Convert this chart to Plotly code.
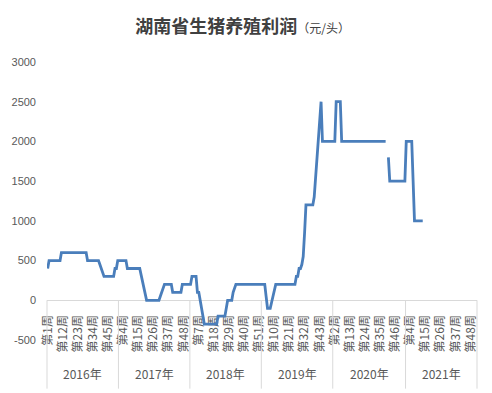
import plotly.graph_objects as go

# ---------------- data ----------------
years = ["2016年", "2017年", "2018年", "2019年", "2020年", "2021年"]
weeks_per_year = [52, 52, 52, 52, 53, 52]

profit_2016 = [400] + [500] * 9 + [600] * 19 + [500] * 9 + [450, 400, 350] + [300] * 8 + [400, 400] + [500]
profit_2017 = [500] * 6 + [400] * 10 + [320, 240, 160, 80] + [0] * 10 + [50, 100, 150] + [200] * 6 + [100] * 7 + [200] * 6
profit_2018 = [200] + [300] * 4 + [100, 100] + [0, -100, -200] + [-300] * 10 + [-200] * 6 + [-100] + [0] * 4 + [100, 150] + [200] * 19
profit_2019 = [200] * 3 + [50] + [-100] * 3 + [-25, 50, 125] + [200] * 15 + [300, 300] + [400, 400] + [450, 550, 850] + [1200] * 6 + [1300] + [1550, 1800] + [2000] + [2250] + [2500] + [2000] * 8
profit_2020 = [2000] * 2 + [2500] * 4 + [2000] * 33 + [None] + [1800] + [1500] * 12
profit_2021 = [2000] * 5 + [1500] + [1000] * 7 + [None] * 39

y_ticks = [-500, 0, 500, 1000, 1500, 2000, 2500, 3000]
tick_every = 11

# ---------------- build ----------------
profit = profit_2016 + profit_2017 + profit_2018 + profit_2019 + profit_2020 + profit_2021
week_labels = []
year_start = []
start = 0
for n in weeks_per_year:
    year_start.append(start)
    week_labels += [f"第{w}周" for w in range(1, n + 1)]
    start += n
total = start
idx = list(range(total))

tickvals = idx[::tick_every]
ticktext = [week_labels[i] for i in tickvals]

ymin, ymax = y_ticks[0], y_ticks[-1]
zero_pos = (0 - ymin) / (ymax - ymin)

gray_txt = "#595959"
line_gray = "#d9d9d9"
font_cjk = "Noto Sans CJK SC"

fig = go.Figure()
fig.add_trace(go.Scatter(
    x=idx, y=profit, mode="lines",
    line=dict(color="#4a7ebb", width=2.8),
    connectgaps=False, hoverinfo="skip", showlegend=False,
))

shapes = []
annotations = []
bounds = year_start + [total]
for b in bounds:
    xp = b / total
    shapes.append(dict(type="line", xref="paper", yref="paper",
                       x0=xp, x1=xp, y0=zero_pos, y1=-0.175,
                       line=dict(color=line_gray, width=1)))
for k, yname in enumerate(years):
    mid = (bounds[k] + bounds[k + 1] - 1) / 2
    annotations.append(dict(x=mid, xref="x", y=-0.122, yref="paper",
                            text=yname, showarrow=False,
                            font=dict(family=font_cjk, size=12, color=gray_txt),
                            xanchor="center", yanchor="middle"))

fig.update_layout(
    width=492, height=393,
    margin=dict(l=41.5, r=15, t=62, b=53, pad=0),
    paper_bgcolor="white", plot_bgcolor="white",
    title=dict(
        text="<b>湖南省生猪养殖利润</b><span style='font-size:12px'>（元/头）</span>",
        x=0.493, xref="container", xanchor="center",
        y=1 - 27 / 393, yref="container", yanchor="middle",
        font=dict(family=font_cjk, size=18, color="#404040"),
    ),
    xaxis=dict(
        range=[-0.5, total - 0.5],
        anchor="free", position=zero_pos,
        tickmode="array", tickvals=tickvals, ticktext=ticktext,
        tickangle=-90, ticks="", ticklabelstandoff=9,
        tickfont=dict(family=font_cjk, size=12, color=gray_txt),
        showline=True, linecolor=line_gray, linewidth=1,
        showgrid=False, zeroline=False, layer="below traces",
    ),
    yaxis=dict(
        range=[ymin, ymax],
        tickmode="array", tickvals=y_ticks, ticktext=[str(v) for v in y_ticks],
        tickfont=dict(family="Liberation Sans", size=11, color=gray_txt),
        ticks="", ticklabelstandoff=10,
        showgrid=False, zeroline=False, showline=False,
    ),
    shapes=shapes,
    annotations=annotations,
)

fig.write_html("out.html")
